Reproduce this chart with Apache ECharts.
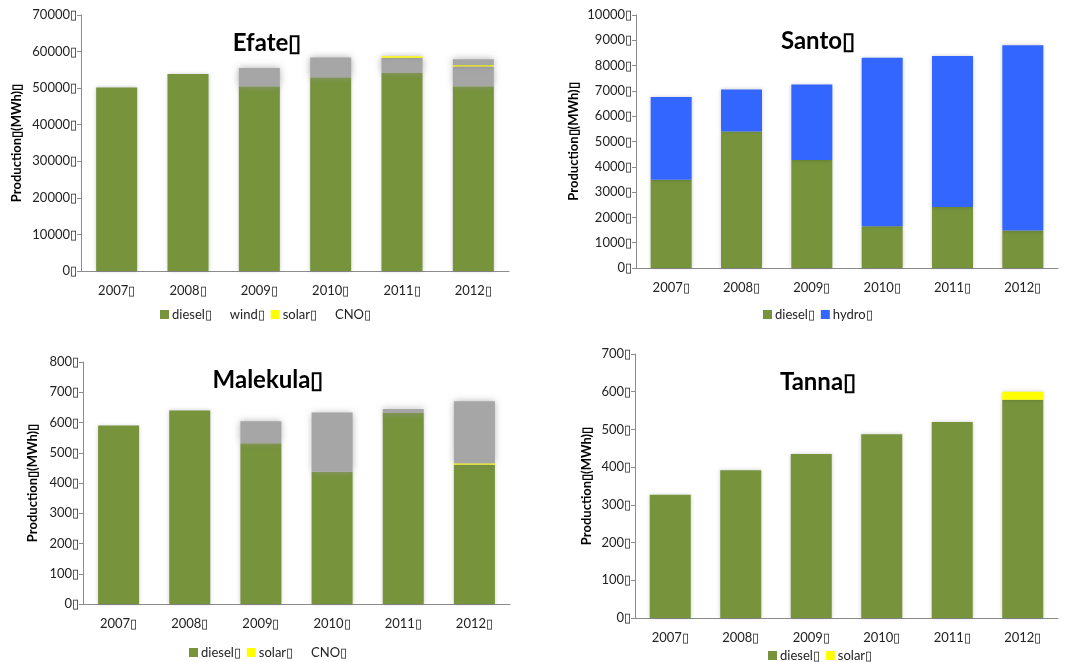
<!DOCTYPE html>
<html>
<head>
<meta charset="utf-8">
<script src="https://cdn.jsdelivr.net/npm/echarts@6/dist/echarts.min.js"></script>
<style>
  html, body { margin: 0; padding: 0; background: #fff; }
  #main { width: 1068px; height: 662px; }
</style>
</head>
<body>
<div id="main"></div>
<script>
// missing-glyph box that shows up after every label in the original
const BOX = '\u25AF';

const years = ['2007', '2008', '2009', '2010', '2011', '2012'];

// Efate
const efateDiesel = [50200, 53900, 50500, 53000, 54300, 50500];
const efateWind   = [0, 0, 5000, 5400, 4000, 5400];
const efateSolar  = [0, 0, 0, 0, 400, 400];
const efateCNO    = [0, 0, 0, 0, 0, 1600];

// Santo
const santoDiesel = [3490, 5400, 4270, 1650, 2410, 1480];
const santoHydro  = [3270, 1660, 2980, 6660, 5970, 7320];

// Malekula
const malekulaDiesel = [590, 640, 531, 437, 631, 460];
const malekulaSolar  = [0, 0, 0, 0, 0, 5];
const malekulaCNO    = [0, 0, 73, 196, 14, 205];

// Tanna
const tannaDiesel = [327, 392, 435, 487, 520, 579];
const tannaSolar  = [0, 0, 0, 0, 0, 21];

const GREEN = '#77933C', BLUE = '#3366FF', YELLOW = '#FFFF00', GRAY = '#A6A6A6';
const FONT = 'Lato, "Liberation Sans", sans-serif';

const chart = echarts.init(document.getElementById('main'));

// plot areas
const grids = [
  { left: 81,  top: 15,  width: 428, height: 256 },
  { left: 636, top: 15,  width: 422, height: 253 },
  { left: 83,  top: 362, width: 427, height: 242 },
  { left: 635, top: 354, width: 423, height: 264 }
];
const yMax = [70000, 10000, 800, 700];
const yStep = [10000, 1000, 100, 100];
const nameGap = [58, 56, 44, 42];
const titles = ['Efate', 'Santo', 'Malekula', 'Tanna'];
const titlePos = [[262, 26], [813, 24], [263, 363], [813, 365]];

const xAxes = grids.map((g, i) => ({
  type: 'category',
  gridIndex: i,
  data: years,
  axisLine: { lineStyle: { color: '#8c8c8c' } },
  axisTick: { length: 4, lineStyle: { color: '#8c8c8c' } },
  axisLabel: { color: '#222', fontSize: 13, fontFamily: FONT, margin: 13,
    formatter: v => v + BOX }
}));

const yAxes = grids.map((g, i) => ({
  type: 'value',
  gridIndex: i,
  min: 0,
  max: yMax[i],
  interval: yStep[i],
  name: 'Production' + BOX + '(MWh)' + BOX,
  nameLocation: 'middle',
  nameGap: nameGap[i],
  nameTextStyle: { color: '#000', fontSize: 13, fontWeight: 'bold', fontFamily: FONT },
  axisLine: { show: true, lineStyle: { color: '#8c8c8c' } },
  axisTick: { show: true, length: 4, lineStyle: { color: '#8c8c8c' } },
  splitLine: { show: false },
  axisLabel: { color: '#222', fontSize: 13, fontFamily: FONT, margin: 4,
    formatter: v => v + BOX }
}));

// one stacked bar series
function bar(name, data, idx, color, glow) {
  return {
    name: name,
    type: 'bar',
    xAxisIndex: idx,
    yAxisIndex: idx,
    stack: 'c' + idx,
    barWidth: 41,
    data: data,
    itemStyle: {
      color: color,
      shadowBlur: glow ? 7 : 4,
      shadowColor: glow ? 'rgba(150,150,150,0.8)' : 'rgba(0,0,0,0.2)'
    },
    emphasis: { disabled: true }
  };
}

const series = [
  bar('diesel', efateDiesel, 0, GREEN),
  bar('wind', efateWind, 0, GRAY, true),
  bar('solar', efateSolar, 0, YELLOW),
  bar('CNO', efateCNO, 0, GRAY, true),
  bar('diesel', santoDiesel, 1, GREEN),
  bar('hydro', santoHydro, 1, BLUE),
  bar('diesel', malekulaDiesel, 2, GREEN),
  bar('solar', malekulaSolar, 2, YELLOW),
  bar('CNO', malekulaCNO, 2, GRAY, true),
  bar('diesel', tannaDiesel, 3, GREEN),
  bar('solar', tannaSolar, 3, YELLOW)
];

const noSwatch = { color: 'rgba(0,0,0,0)', shadowBlur: 0 };
const flat = { shadowBlur: 0 };
function legend(items, left, top) {
  return {
    left: left,
    top: top,
    itemWidth: 9,
    itemHeight: 9,
    itemGap: 6,
    selectedMode: false,
    icon: 'rect',
    textStyle: { color: '#222', fontSize: 13, fontFamily: FONT, padding: [0, 0, 0, -2] },
    formatter: n => n + BOX,
    data: items
  };
}

chart.setOption({
  animation: false,
  textStyle: { fontFamily: FONT },
  title: titles.map((t, i) => ({
    text: t + BOX,
    left: titlePos[i][0],
    top: titlePos[i][1],
    textAlign: 'center',
    textStyle: { fontSize: 24, fontWeight: 'bold', color: '#000', fontFamily: FONT }
  })),
  grid: grids,
  xAxis: xAxes,
  yAxis: yAxes,
  legend: [
    legend([{ name: 'diesel', itemStyle: flat }, { name: 'wind', itemStyle: noSwatch },
            { name: 'solar', itemStyle: flat }, { name: 'CNO', itemStyle: noSwatch }], 155, 303),
    legend([{ name: 'diesel', itemStyle: flat }, { name: 'hydro', itemStyle: flat }], 758, 303),
    legend([{ name: 'diesel', itemStyle: flat }, { name: 'solar', itemStyle: flat },
            { name: 'CNO', itemStyle: noSwatch }], 184, 641),
    legend([{ name: 'diesel', itemStyle: flat }, { name: 'solar', itemStyle: flat }], 763, 644)
  ],
  series: series
});
</script>
</body>
</html>
